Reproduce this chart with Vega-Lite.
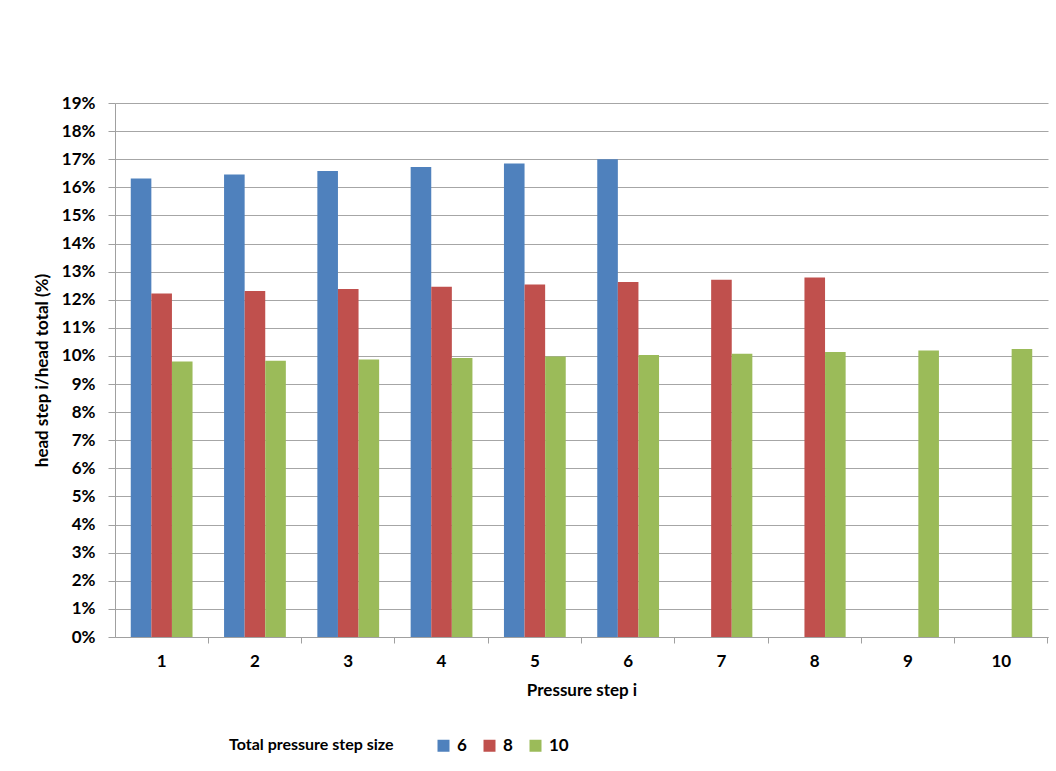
{
  "$schema": "https://vega.github.io/schema/vega-lite/v6.json",
  "autosize": {"type": "none"},
  "width": 933,
  "height": 534,
  "padding": {"left": 115, "top": 103, "right": 8, "bottom": 134},
  "background": "white",
  "config": {
    "font": "Lato",
    "view": {"stroke": null},
    "axis": {"labelFont": "Lato", "titleFont": "Lato", "labelFontWeight": "bold", "titleFontWeight": "bold", "labelColor": "black", "titleColor": "black"},
    "legend": {"labelFont": "Lato", "titleFont": "Lato"}
  },
  "data": {
    "values": [
      {"step": 1, "size": "6", "value": 0.1631},
      {"step": 2, "size": "6", "value": 0.1646},
      {"step": 3, "size": "6", "value": 0.1658},
      {"step": 4, "size": "6", "value": 0.1672},
      {"step": 5, "size": "6", "value": 0.1685},
      {"step": 6, "size": "6", "value": 0.1700},
      {"step": 1, "size": "8", "value": 0.1222},
      {"step": 2, "size": "8", "value": 0.1231},
      {"step": 3, "size": "8", "value": 0.1238},
      {"step": 4, "size": "8", "value": 0.1246},
      {"step": 5, "size": "8", "value": 0.1254},
      {"step": 6, "size": "8", "value": 0.1263},
      {"step": 7, "size": "8", "value": 0.1271},
      {"step": 8, "size": "8", "value": 0.1279},
      {"step": 1, "size": "10", "value": 0.0980},
      {"step": 2, "size": "10", "value": 0.0983},
      {"step": 3, "size": "10", "value": 0.0987},
      {"step": 4, "size": "10", "value": 0.0993},
      {"step": 5, "size": "10", "value": 0.0998},
      {"step": 6, "size": "10", "value": 0.1003},
      {"step": 7, "size": "10", "value": 0.1008},
      {"step": 8, "size": "10", "value": 0.1014},
      {"step": 9, "size": "10", "value": 0.1019},
      {"step": 10, "size": "10", "value": 0.1025}
    ]
  },
  "resolve": {"axis": {"x": "independent"}},
  "encoding": {
    "y": {
      "field": "value", "type": "quantitative",
      "scale": {"domain": [0, 0.19], "nice": false},
      "axis": {
        "values": [0, 0.01, 0.02, 0.03, 0.04, 0.05, 0.06, 0.07, 0.08, 0.09, 0.1, 0.11, 0.12, 0.13, 0.14, 0.15, 0.16, 0.17, 0.18, 0.19],
        "format": ".0%",
        "labelOverlap": false,
        "labelFontSize": 17,
        "labelPadding": 13,
        "tickSize": 7,
        "tickColor": "#a0a0a0",
        "domainColor": "#a0a0a0",
        "gridColor": "#a6a6a6",
        "title": "head step i/head total (%)",
        "titleFontSize": 17,
        "titlePadding": 10
      }
    }
  },
  "layer": [
    {
      "mark": {"type": "bar", "opacity": 0},
      "encoding": {
        "x": {
          "field": "step", "type": "ordinal",
          "scale": {"paddingInner": 0, "paddingOuter": 0},
          "axis": {"orient": "bottom", "bandPosition": 1, "labels": false, "domain": false, "grid": false, "ticks": true, "tickColor": "#a0a0a0", "tickSize": 6, "title": null}
        }
      }
    },
    {
      "mark": {"type": "bar"},
      "encoding": {
        "x": {
          "field": "step", "type": "ordinal",
          "scale": {"paddingInner": 0, "paddingOuter": 0},
          "axis": {"orient": "bottom", "labelAngle": 0, "labelFontSize": 17, "labelPadding": 16, "ticks": false, "domainColor": "#a0a0a0", "title": "Pressure step i", "titleFontSize": 17, "titlePadding": 13}
        },
        "xOffset": {
          "field": "size", "type": "nominal",
          "sort": ["6", "8", "10"],
          "scale": {"paddingInner": 0, "paddingOuter": 0.765}
        },
        "color": {
          "field": "size", "type": "nominal",
          "sort": ["6", "8", "10"],
          "scale": {"domain": ["6", "8", "10"], "range": ["#4F81BD", "#C0504D", "#9BBB59"]},
          "legend": {
            "orient": "none",
            "legendX": 114,
            "legendY": 634,
            "direction": "horizontal",
            "title": "Total pressure step size",
            "titleOrient": "left",
            "titlePadding": 41,
            "titleFontSize": 16,
            "titleFontWeight": "bold",
            "titleColor": "black",
            "labelFontSize": 17,
            "labelFontWeight": "bold",
            "labelColor": "black",
            "symbolType": "square",
            "symbolSize": 144,
            "symbolStrokeWidth": 0,
            "labelOffset": 5,
            "columnPadding": 14
          }
        }
      }
    },
    {
      "data": {"values": [{"caption": "chart title"}]},
      "mark": {
        "type": "text",
        "text": ["Head percentage on each step", "case A GVF=0.96"],
        "font": "Lato",
        "fontSize": 22,
        "fontWeight": "bold",
        "color": "black",
        "align": "center",
        "baseline": "middle",
        "lineHeight": 34
      },
      "encoding": {
        "x": {"datum": 5, "type": "ordinal", "axis": null},
        "y": {
          "datum": 0.2092, "type": "quantitative",
          "axis": {
            "values": [0, 0.01, 0.02, 0.03, 0.04, 0.05, 0.06, 0.07, 0.08, 0.09, 0.1, 0.11, 0.12, 0.13, 0.14, 0.15, 0.16, 0.17, 0.18, 0.19],
            "format": ".0%",
            "labelOverlap": false,
            "labelFontSize": 17,
            "labelPadding": 13,
            "tickSize": 7,
            "tickColor": "#a0a0a0",
            "domainColor": "#a0a0a0",
            "gridColor": "#a6a6a6",
            "title": "head step i/head total (%)",
            "titleFontSize": 17,
            "titlePadding": 10
          }
        }
      }
    }
  ]
}
